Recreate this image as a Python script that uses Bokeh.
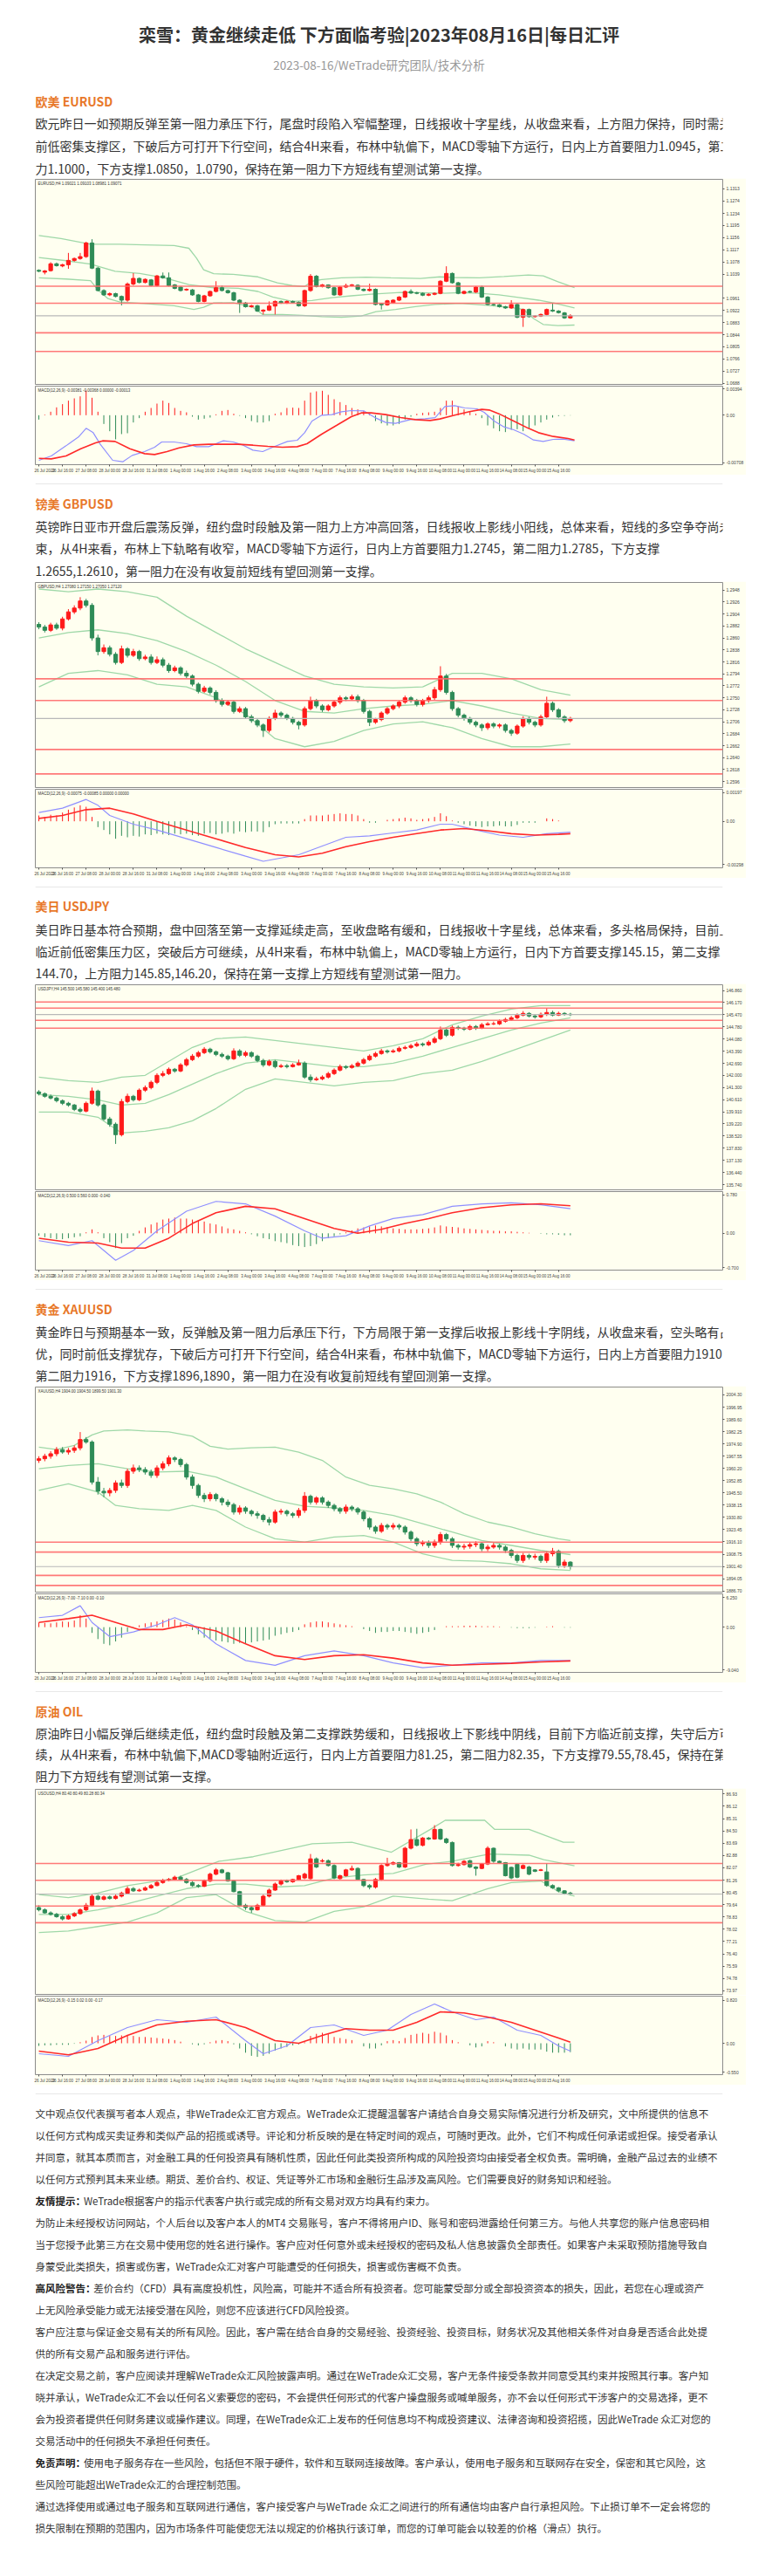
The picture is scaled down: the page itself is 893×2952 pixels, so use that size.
from bokeh.plotting import figure
from bokeh.layouts import column, row
from bokeh.models import Spacer, Range1d, Span, Label, FixedTicker, ColumnDataSource, PrintfTickFormatter
from bokeh.embed import file_html
from bokeh.resources import INLINE
from bokeh.core.properties import value

FONT = "Noto Sans CJK SC"
W = 816
PALE = "#fffff0"
UPC = "#ff1a1a"
DNC = "#2e8b57"
BANDC = "#9fd8a8"
LEVELC = "#ff6a6a"
ORANGE = "#e8782a"
BODY = "14px"
SMALL = "11.5px"

# ---------------- texts ----------------
title = "栾雪：黄金继续走低 下方面临考验|2023年08月16日|每日汇评"
subtitle = "2023-08-16/WeTrade研究团队/技术分析"

eur_head = "欧美 EURUSD"
eur_lines = [
    "欧元昨日一如预期反弹至第一阻力承压下行，尾盘时段陷入窄幅整理，日线报收十字星线，从收盘来看，上方阻力保持，同时需关注",
    "前低密集支撑区，下破后方可打开下行空间，结合4H来看，布林中轨偏下，MACD零轴下方运行，日内上方首要阻力1.0945，第二阻",
    "力1.1000，下方支撑1.0850，1.0790，保持在第一阻力下方短线有望测试第一支撑。",
]
gbp_head = "镑美 GBPUSD"
gbp_lines = [
    "英镑昨日亚市开盘后震荡反弹，纽约盘时段触及第一阻力上方冲高回落，日线报收上影线小阳线，总体来看，短线的多空争夺尚未结",
    "束，从4H来看，布林上下轨略有收窄，MACD零轴下方运行，日内上方首要阻力1.2745，第二阻力1.2785，下方支撑",
    "1.2655,1.2610，第一阻力在没有收复前短线有望回测第一支撑。",
]
jpy_head = "美日 USDJPY"
jpy_lines = [
    "美日昨日基本符合预期，盘中回落至第一支撑延续走高，至收盘略有缓和，日线报收十字星线，总体来看，多头格局保持，目前上方",
    "临近前低密集压力区，突破后方可继续，从4H来看，布林中轨偏上，MACD零轴上方运行，日内下方首要支撑145.15，第二支撑",
    "144.70，上方阻力145.85,146.20，保持在第一支撑上方短线有望测试第一阻力。",
]
xau_head = "黄金 XAUUSD"
xau_lines = [
    "黄金昨日与预期基本一致，反弹触及第一阻力后承压下行，下方局限于第一支撑后收报上影线十字阴线，从收盘来看，空头略有占",
    "优，同时前低支撑犹存，下破后方可打开下行空间，结合4H来看，布林中轨偏下，MACD零轴下方运行，日内上方首要阻力1910，",
    "第二阻力1916，下方支撑1896,1890，第一阻力在没有收复前短线有望回测第一支撑。",
]
oil_head = "原油 OIL"
oil_lines = [
    "原油昨日小幅反弹后继续走低，纽约盘时段触及第二支撑跌势缓和，日线报收上下影线中阴线，目前下方临近前支撑，失守后方可继",
    "续，从4H来看，布林中轨偏下,MACD零轴附近运行，日内上方首要阻力81.25，第二阻力82.35，下方支撑79.55,78.45，保持在第一",
    "阻力下方短线有望测试第一支撑。",
]
disc_lines = [
    ("", "文中观点仅代表撰写者本人观点，非WeTrade众汇官方观点。WeTrade众汇提醒温馨客户请结合自身交易实际情况进行分析及研究，文中所提供的信息不"),
    ("", "以任何方式构成买卖证券和类似产品的招揽或诱导。评论和分析反映的是在特定时间的观点，可随时更改。此外，它们不构成任何承诺或担保。接受者承认"),
    ("", "并同意，就其本质而言，对金融工具的任何投资具有随机性质，因此任何此类投资所构成的风险投资均由接受者全权负责。需明确，金融产品过去的业绩不"),
    ("", "以任何方式预判其未来业绩。期货、差价合约、权证、凭证等外汇市场和金融衍生品涉及高风险。它们需要良好的财务知识和经验。"),
    ("友情提示：", "WeTrade根据客户的指示代表客户执行或完成的所有交易对双方均具有约束力。"),
    ("", "为防止未经授权访问网站，个人后台以及客户本人的MT4 交易账号，客户不得将用户ID、账号和密码泄露给任何第三方。与他人共享您的账户信息密码相"),
    ("", "当于您授予此第三方在交易中使用您的姓名进行操作。客户应对任何意外或未经授权的密码及私人信息披露负全部责任。如果客户未采取预防措施导致自"),
    ("", "身蒙受此类损失，损害或伤害，WeTrade众汇对客户可能遭受的任何损失，损害或伤害概不负责。"),
    ("高风险警告：", "差价合约（CFD）具有高度投机性，风险高，可能并不适合所有投资者。您可能蒙受部分或全部投资资本的损失，因此，若您在心理或资产"),
    ("", "上无风险承受能力或无法接受潜在风险，则您不应该进行CFD风险投资。"),
    ("", "客户应注意与保证金交易有关的所有风险。因此，客户需在结合自身的交易经验、投资经验、投资目标，财务状况及其他相关条件对自身是否适合此处提"),
    ("", "供的所有交易产品和服务进行评估。"),
    ("", "在决定交易之前，客户应阅读并理解WeTrade众汇风险披露声明。通过在WeTrade众汇交易，客户无条件接受条款并同意受其约束并按照其行事。客户知"),
    ("", "晓并承认，WeTrade众汇不会以任何名义索要您的密码，不会提供任何形式的代客户操盘服务或喊单服务，亦不会以任何形式干涉客户的交易选择，更不"),
    ("", "会为投资者提供任何财务建议或操作建议。同理，在WeTrade众汇上发布的任何信息均不构成投资建议、法律咨询和投资招揽，因此WeTrade 众汇对您的"),
    ("", "交易活动中的任何损失不承担任何责任。"),
    ("免责声明：", "使用电子服务存在一些风险，包括但不限于硬件，软件和互联网连接故障。客户承认，使用电子服务和互联网存在安全，保密和其它风险，这"),
    ("", "些风险可能超出WeTrade众汇的合理控制范围。"),
    ("", "通过选择使用或通过电子服务和互联网进行通信，客户接受客户与WeTrade 众汇之间进行的所有通信均由客户自行承担风险。下止损订单不一定会将您的"),
    ("", "损失限制在预期的范围内，因为市场条件可能使您无法以规定的价格执行该订单，而您的订单可能会以较差的价格（滑点）执行。"),
]

# ---------------- shared date axis ----------------
date_ticks = [0, 4, 8, 12, 16, 20, 24, 28, 32, 36, 40, 44, 48, 52, 56, 60, 64, 68, 72, 76, 80, 84, 88]
date_labels = ["26 Jul 2023", "26 Jul 16:00", "27 Jul 08:00", "28 Jul 00:00", "28 Jul 16:00", "31 Jul 08:00",
               "1 Aug 00:00", "1 Aug 16:00", "2 Aug 08:00", "3 Aug 00:00", "3 Aug 16:00", "4 Aug 08:00",
               "7 Aug 00:00", "7 Aug 16:00", "8 Aug 08:00", "9 Aug 00:00", "9 Aug 16:00", "10 Aug 08:00",
               "11 Aug 00:00", "11 Aug 16:00", "14 Aug 08:00", "15 Aug 00:00", "15 Aug 16:00"]

# ================= EURUSD =================
eur_open = [1.1051, 1.1045, 1.1050, 1.1072, 1.1065, 1.1069, 1.1083, 1.1089, 1.1095, 1.1139,
            1.1058, 1.0986, 1.0972, 1.0976, 1.0967, 1.0955, 1.1007, 1.1025, 1.1012, 1.1020,
            1.1002, 1.1033, 1.1027, 1.1004, 1.0997, 1.0988, 1.0988, 1.0972, 1.0951, 1.0969,
            1.0983, 1.0995, 1.0986, 1.0979, 1.0955, 1.0946, 1.0934, 1.0937, 1.0920, 1.0923,
            1.0936, 1.0951, 1.0946, 1.0951, 1.0948, 1.0937, 1.0986, 1.1032, 1.0999, 1.1004,
            1.0995, 1.0972, 1.0997, 1.1002, 1.1003, 1.0990, 1.0986, 1.0990, 1.0943, 1.0940,
            1.0947, 1.0955, 1.0965, 1.0983, 1.0979, 1.0977, 1.0971, 1.0974, 1.0977, 1.1016,
            1.1041, 1.1011, 1.0977, 1.0983, 1.0981, 1.0997, 1.0965, 1.0941, 1.0940, 1.0934,
            1.0930, 1.0941, 1.0900, 1.0925, 1.0902, 1.0904, 1.0909, 1.0923, 1.0920, 1.0914,
            1.0898]
eur_close = [1.1048, 1.1049, 1.1072, 1.1066, 1.1069, 1.1083, 1.1089, 1.1095, 1.1139, 1.1058,
             1.0986, 1.0972, 1.0976, 1.0967, 1.0955, 1.1007, 1.1025, 1.1012, 1.1022, 1.1002,
             1.1033, 1.1027, 1.1002, 1.0993, 1.0986, 1.0990, 1.0972, 1.0951, 1.0969, 1.0983,
             1.0995, 1.0986, 1.0979, 1.0955, 1.0946, 1.0934, 1.0937, 1.0920, 1.0923, 1.0936,
             1.0951, 1.0946, 1.0951, 1.0948, 1.0937, 1.0986, 1.1032, 1.0999, 1.1004, 1.0995,
             1.0972, 1.0997, 1.1002, 1.1004, 1.0990, 1.0986, 1.0990, 1.0941, 1.0940, 1.0953,
             1.0955, 1.0965, 1.0983, 1.0978, 1.0977, 1.0971, 1.0974, 1.0977, 1.1016, 1.1041,
             1.1011, 1.0977, 1.0983, 1.0981, 1.0997, 1.0965, 1.0941, 1.0940, 1.0934, 1.0930,
             1.0941, 1.0900, 1.0925, 1.0902, 1.0904, 1.0909, 1.0925, 1.0920, 1.0915, 1.0898,
             1.0905]
eur_high = [1.1054, 1.1052, 1.1077, 1.1076, 1.1072, 1.1107, 1.1092, 1.1107, 1.1143, 1.1151,
            1.1062, 1.0990, 1.0980, 1.0979, 1.0970, 1.1012, 1.1042, 1.1028, 1.1025, 1.1023,
            1.1036, 1.1044, 1.1044, 1.1007, 1.1000, 1.0993, 1.0991, 1.0975, 1.0972, 1.0986,
            1.1016, 1.1002, 1.0989, 1.0982, 1.0958, 1.0949, 1.0940, 1.0940, 1.0926, 1.0951,
            1.0954, 1.0954, 1.0954, 1.0954, 1.0951, 1.0989, 1.1039, 1.1036, 1.1007, 1.1006,
            1.0998, 1.1000, 1.1008, 1.1007, 1.1006, 1.0993, 1.1008, 1.0993, 1.0946, 1.0956,
            1.0958, 1.0968, 1.0986, 1.0990, 1.0982, 1.0980, 1.0977, 1.0980, 1.1019, 1.1064,
            1.1044, 1.1014, 1.0986, 1.0986, 1.1000, 1.1002, 1.0968, 1.0944, 1.0943, 1.0937,
            1.0955, 1.0944, 1.0928, 1.0928, 1.0907, 1.0912, 1.0928, 1.0946, 1.0923, 1.0917,
            1.0910]
eur_low = [1.1045, 1.1038, 1.1047, 1.1063, 1.1061, 1.1056, 1.1079, 1.1085, 1.1091, 1.1055,
           1.0983, 1.0969, 1.0968, 1.0964, 1.0938, 1.0950, 1.1003, 1.1009, 1.1009, 1.0999,
           1.0999, 1.1024, 1.0999, 1.0990, 1.0983, 1.0985, 1.0969, 1.0948, 1.0948, 1.0966,
           1.0980, 1.0983, 1.0976, 1.0952, 1.0914, 1.0931, 1.0931, 1.0917, 1.0909, 1.0920,
           1.0909, 1.0943, 1.0943, 1.0945, 1.0934, 1.0933, 1.0982, 1.0996, 1.0996, 1.0992,
           1.0969, 1.0969, 1.0994, 1.0999, 1.0987, 1.0983, 1.0983, 1.0938, 1.0925, 1.0937,
           1.0944, 1.0952, 1.0962, 1.0975, 1.0974, 1.0968, 1.0968, 1.0971, 1.0974, 1.1013,
           1.1008, 1.0974, 1.0974, 1.0978, 1.0978, 1.0962, 1.0938, 1.0937, 1.0931, 1.0927,
           1.0927, 1.0897, 1.0869, 1.0899, 1.0899, 1.0901, 1.0906, 1.0917, 1.0912, 1.0895,
           1.0895]
eur_bb_up_x = [0, 3.75, 8.75, 13.75, 17.9, 22.9, 25.4, 26.7, 27.9, 29.6, 32.9, 37.1, 40.4, 42.9, 45,
               46.25, 47.9, 51.25, 55.4, 59.6, 64.6, 67.9, 70.4, 74.6, 78.75, 82.9, 85.4, 87.9, 90.7]
eur_bb_up = [1.1163, 1.1153, 1.1135, 1.1135, 1.1133, 1.1131, 1.1122, 1.1090, 1.1053, 1.1040, 1.1038, 1.1030,
             1.1011, 1.1002, 1.0999, 1.1016, 1.1021, 1.1027, 1.1029, 1.1027, 1.1025, 1.1030, 1.1028, 1.1027,
             1.1031, 1.1036, 1.1033, 1.1014, 1.0995]
eur_bb_mid_x = [0, 4.6, 8.75, 12.9, 17.1, 21.25, 25.4, 29.6, 33.75, 37.1, 39.6, 42.9, 46.25, 49.6, 52.9,
                56.25, 61.25, 64.6, 67.9, 71.25, 74.6, 77.9, 81.25, 84.6, 87.9, 90.7]
eur_bb_mid = [1.1092, 1.1082, 1.1071, 1.1048, 1.1041, 1.1027, 1.1005, 1.0995, 1.0993, 1.0983, 1.0965, 1.0951,
              1.0954, 1.0963, 1.0969, 1.0974, 1.0980, 1.0979, 1.0977, 1.0979, 1.0977, 1.0972, 1.0964, 1.0955,
              1.0943, 1.0930]
eur_bb_low_x = [0, 4.6, 8.75, 10, 11.7, 13.75, 17.9, 22.9, 26.25, 27.9, 29.6, 32.9, 36.25, 37.9, 41.25,
                44.6, 47.9, 51.25, 54.6, 57.1, 60.4, 63.75, 67.1, 71.25, 75.4, 79.6, 82.1, 83.75, 85.4, 87.9, 90.7]
eur_bb_low = [1.1027, 1.1023, 1.1018, 1.0988, 1.0960, 1.0949, 1.0944, 1.0937, 1.0925, 1.0932, 1.0946, 1.0947,
              1.0932, 1.0909, 1.0909, 1.0906, 1.0902, 1.0900, 1.0904, 1.0918, 1.0925, 1.0934, 1.0941, 1.0945,
              1.0939, 1.0932, 1.0925, 1.0896, 1.0877, 1.0873, 1.0875]
eur_hist = [-0.00065, 0.00009, 0.00052, 0.00117, 0.00165, 0.00217, 0.00251, 0.00281, 0.00368, 0.00260,
            0.00052, -0.00130, -0.00238, -0.00359, -0.00281, -0.00268, -0.00108, -0.00043, 0.00052, 0.00108,
            0.00173, 0.00217, 0.00182, 0.00108, 0.00065, 0.00043, -0.00022, -0.00065, -0.00052, -0.00035,
            0.00013, 0.00065, 0.00078, 0.00022, -0.00009, -0.00043, -0.00087, -0.00108, -0.00108, -0.00087,
            0.00022, 0.00043, 0.00108, 0.00113, 0.00108, 0.00217, 0.00338, 0.00355, 0.00364, 0.00303,
            0.00238, 0.00195, 0.00152, 0.00108, 0.00087, 0.00065, 0.00035, -0.00087, -0.00121, -0.00152,
            -0.00152, -0.00130, -0.00065, -0.00022, 0.00022, 0.00035, 0.00043, 0.00052, 0.00108, 0.00217,
            0.00217, 0.00130, 0.00087, 0.00052, 0.00022, -0.00043, -0.00152, -0.00195, -0.00238, -0.00251,
            -0.00217, -0.00208, -0.00238, -0.00195, -0.00152, -0.00108, -0.00065, -0.00035, -0.00013, -0.00009,
            -0.00004]
eur_macd_x = [0, 2.1, 4.6, 6.7, 8, 9.2, 10.4, 12.5, 14.2, 15.8, 17.9, 19.6, 20.8, 22.9, 25, 26.7, 28.75,
              31.25, 32.9, 34.6, 36.25, 37.9, 39.6, 42.1, 43.75, 45, 46.25, 47.9, 49.6, 51.25, 52.9, 55,
              57.1, 58.75, 60.4, 62.9, 65.4, 67.1, 68.75, 70.4, 72.1, 74.2, 75.4, 77.1, 78.75, 80.4, 82.1,
              83.75, 85.4, 87.1, 88.75, 90.7]
eur_macd = [-0.00671, -0.00606, -0.00455, -0.00325, -0.00195, -0.00260, -0.00433, -0.00671, -0.00693, -0.00598,
            -0.00541, -0.00476, -0.00398, -0.00398, -0.00424, -0.00468, -0.00468, -0.00381, -0.00398, -0.00446,
            -0.00520, -0.00541, -0.00476, -0.00390, -0.00372, -0.00260, -0.00087, 0.0, 0.00009, 0.00052,
            0.00069, 0.00065, -0.00043, -0.00108, -0.00121, -0.00065, -0.00052, -0.00035, 0.00130, 0.00143,
            0.00108, 0.00095, 0.00043, -0.00087, -0.00173, -0.00217, -0.00281, -0.00368, -0.00390, -0.00359,
            -0.00355, -0.00381]
eur_sig_x = [0, 2.1, 4.6, 7.1, 9.6, 10.8, 12.9, 15.4, 17.9, 19.6, 21.7, 23.75, 26.25, 28.75, 31.25, 33.75,
             36.25, 38.75, 41.25, 43.75, 45.4, 47.9, 50.4, 52.9, 54.6, 56.25, 58.75, 61.25, 63.75, 66.25,
             67.9, 70.4, 72.9, 75, 76.25, 77.9, 80.4, 82.9, 84.6, 87.1, 89.6, 90.7]
eur_sig = [-0.00641, -0.00650, -0.00606, -0.00498, -0.00411, -0.00381, -0.00390, -0.00498, -0.00572, -0.00585,
           -0.00541, -0.00485, -0.00442, -0.00433, -0.00433, -0.00433, -0.00446, -0.00463, -0.00476, -0.00468,
           -0.00424, -0.00281, -0.00152, -0.00022, 0.00035, 0.00035, 0.00009, -0.00035, -0.00065, -0.00078,
           -0.00056, 0.0, 0.00052, 0.00087, 0.00078, 0.00022, -0.00087, -0.00195, -0.00260, -0.00316,
           -0.00346, -0.00368]
eur_levels = [1.1000, 1.0945, 1.0850, 1.0790]
eur_last = 1.0905
eur_yticks = [1.0688, 1.0727, 1.0766, 1.0805, 1.0844, 1.0883, 1.0922, 1.0961, 1.1039, 1.1078, 1.1117,
              1.1156, 1.1195, 1.1234, 1.1274, 1.1313]

# ================= GBPUSD =================
gbp_open = [1.2885, 1.2880, 1.2874, 1.2884, 1.2878, 1.2895,
            1.2908, 1.2915, 1.2928, 1.2920, 1.2860, 1.2835,
            1.2842, 1.2830, 1.2815, 1.2840, 1.2828, 1.2835,
            1.2822, 1.2825, 1.2815, 1.2820, 1.2810, 1.2800,
            1.2805, 1.2795, 1.2790, 1.2775, 1.2762, 1.2768,
            1.2760, 1.2745, 1.2738, 1.2742, 1.2725, 1.2730,
            1.2715, 1.2708, 1.2700, 1.2690, 1.2712, 1.2722,
            1.2718, 1.2712, 1.2705, 1.2700, 1.2730, 1.2745,
            1.2735, 1.2728, 1.2735, 1.2742, 1.2750, 1.2748,
            1.2752, 1.2745, 1.2725, 1.2705, 1.2710, 1.2722,
            1.2730, 1.2735, 1.2742, 1.2750, 1.2745, 1.2738,
            1.2745, 1.2750, 1.2765, 1.2790, 1.2760, 1.2730,
            1.2718, 1.2712, 1.2705, 1.2700, 1.2695, 1.2702,
            1.2698, 1.2700, 1.2690, 1.2685, 1.2698, 1.2712,
            1.2705, 1.2700, 1.2715, 1.2740, 1.2728, 1.2715,
            1.2708]
gbp_close = [1.2880, 1.2874, 1.2884, 1.2878, 1.2895, 1.2908,
             1.2915, 1.2928, 1.2920, 1.2860, 1.2835, 1.2842,
             1.2830, 1.2815, 1.2840, 1.2828, 1.2835, 1.2822,
             1.2825, 1.2815, 1.2820, 1.2810, 1.2800, 1.2805,
             1.2795, 1.2790, 1.2775, 1.2762, 1.2768, 1.2760,
             1.2745, 1.2738, 1.2742, 1.2725, 1.2730, 1.2715,
             1.2708, 1.2700, 1.2690, 1.2712, 1.2722, 1.2718,
             1.2712, 1.2705, 1.2700, 1.2730, 1.2745, 1.2735,
             1.2728, 1.2735, 1.2742, 1.2750, 1.2748, 1.2752,
             1.2745, 1.2725, 1.2705, 1.2710, 1.2722, 1.2730,
             1.2735, 1.2742, 1.2750, 1.2745, 1.2738, 1.2745,
             1.2750, 1.2765, 1.2790, 1.2760, 1.2730, 1.2718,
             1.2712, 1.2705, 1.2700, 1.2695, 1.2702, 1.2698,
             1.2700, 1.2690, 1.2685, 1.2698, 1.2712, 1.2705,
             1.2700, 1.2715, 1.2740, 1.2728, 1.2715, 1.2708,
             1.2712]
gbp_high = [1.2889, 1.2884, 1.2888, 1.2888, 1.2899, 1.2913,
            1.2920, 1.2935, 1.2932, 1.2924, 1.2866, 1.2848,
            1.2846, 1.2834, 1.2846, 1.2843, 1.2840, 1.2838,
            1.2829, 1.2830, 1.2826, 1.2824, 1.2814, 1.2809,
            1.2808, 1.2800, 1.2793, 1.2778, 1.2772, 1.2771,
            1.2764, 1.2749, 1.2746, 1.2745, 1.2734, 1.2733,
            1.2719, 1.2711, 1.2703, 1.2716, 1.2728, 1.2725,
            1.2721, 1.2715, 1.2708, 1.2734, 1.2752, 1.2748,
            1.2738, 1.2738, 1.2745, 1.2754, 1.2753, 1.2756,
            1.2756, 1.2748, 1.2728, 1.2713, 1.2725, 1.2733,
            1.2738, 1.2745, 1.2754, 1.2753, 1.2748, 1.2748,
            1.2754, 1.2770, 1.2808, 1.2794, 1.2763, 1.2733,
            1.2721, 1.2715, 1.2708, 1.2703, 1.2705, 1.2705,
            1.2703, 1.2703, 1.2693, 1.2701, 1.2716, 1.2715,
            1.2708, 1.2719, 1.2752, 1.2743, 1.2731, 1.2718,
            1.2715]
gbp_low = [1.2876, 1.2870, 1.2871, 1.2875, 1.2874, 1.2892,
           1.2904, 1.2911, 1.2916, 1.2855, 1.2828, 1.2831,
           1.2826, 1.2811, 1.2812, 1.2824, 1.2825, 1.2818,
           1.2819, 1.2811, 1.2812, 1.2806, 1.2796, 1.2797,
           1.2791, 1.2786, 1.2771, 1.2758, 1.2759, 1.2756,
           1.2741, 1.2734, 1.2735, 1.2721, 1.2722, 1.2711,
           1.2704, 1.2696, 1.2678, 1.2686, 1.2709, 1.2714,
           1.2709, 1.2701, 1.2692, 1.2697, 1.2727, 1.2731,
           1.2724, 1.2725, 1.2732, 1.2738, 1.2744, 1.2745,
           1.2741, 1.2721, 1.2698, 1.2702, 1.2707, 1.2719,
           1.2727, 1.2731, 1.2739, 1.2741, 1.2734, 1.2734,
           1.2741, 1.2746, 1.2761, 1.2756, 1.2726, 1.2714,
           1.2708, 1.2701, 1.2696, 1.2689, 1.2691, 1.2694,
           1.2694, 1.2686, 1.2680, 1.2682, 1.2695, 1.2701,
           1.2696, 1.2697, 1.2711, 1.2724, 1.2711, 1.2704,
           1.2705]
gbp_bb_x = [0, 5, 10, 15, 20, 25, 30, 35, 40, 45, 50, 55, 60, 65, 70, 75, 80, 85, 90]
gbp_bb_up = [1.2950, 1.2945, 1.2950, 1.2945, 1.2935, 1.2900, 1.2870, 1.2840, 1.2815, 1.2790,
             1.2775, 1.2770, 1.2768, 1.2770, 1.2795, 1.2795, 1.2785, 1.2765, 1.2755]
gbp_bb_mid = [1.2860, 1.2870, 1.2875, 1.2868, 1.2855, 1.2835, 1.2810, 1.2780, 1.2745, 1.2725,
              1.2722, 1.2730, 1.2735, 1.2738, 1.2745, 1.2735, 1.2722, 1.2712, 1.2710]
gbp_bb_low = [1.2770, 1.2795, 1.2800, 1.2792, 1.2775, 1.2770, 1.2750, 1.2720, 1.2675, 1.2660,
              1.2670, 1.2690, 1.2702, 1.2706, 1.2695, 1.2675, 1.2660, 1.2660, 1.2665]
gbp_hist = [0.0004, 0.0003, 0.00045, 0.0004, 0.0006, 0.0008, 0.00095, 0.0011, 0.0010,
            0.0003, -0.0004, -0.0006, -0.0009, -0.0012, -0.0010, -0.0011, -0.0010, -0.00105,
            -0.0009, -0.00095, -0.00085, -0.0009, -0.00095, -0.00085, -0.0009, -0.00085, -0.00095,
            -0.0010, -0.00085, -0.0008, -0.0009, -0.00085, -0.00075, -0.00085, -0.0007, -0.00075,
            -0.0007, -0.0007, -0.00075, -0.0004, -0.0002, -0.00015, -0.00015, -0.00015, -0.00015,
            0.00015, 0.0004, 0.0004, 0.0004, 0.00045, 0.0005, 0.00055, 0.0005, 0.0005,
            0.0004, 0.00015, -0.0001, -0.0001, 0.0, 0.0001, 0.00015, 0.0002, 0.00025,
            0.0002, 0.0001, 0.00015, 0.0002, 0.0003, 0.00055, 0.00035, 0.00005, -0.0001,
            -0.0002, -0.0003, -0.00035, -0.0004, -0.00035, -0.00035, -0.0003, -0.00035, -0.00035,
            -0.00025, -0.0001, -0.0001, -0.0001, 0.0, 0.0002, 0.00015, 0.00005, 0.0,
            0.0]
gbp_macd_x = [0, 4, 8, 10, 12, 16, 20, 25, 30, 35, 38, 40, 44, 48, 52, 56, 60, 64, 68, 70, 74, 78, 82, 86, 90]
gbp_macd = [0.0006, 0.0009, 0.0015, 0.0011, 0.0004, -0.0002, -0.0006, -0.0012, -0.0018, -0.0024,
            -0.00275, -0.0026, -0.0023, -0.0017, -0.0011, -0.0010, -0.0008, -0.0006, -0.0002, -0.0002,
            -0.0006, -0.00095, -0.0011, -0.00085, -0.00075]
gbp_sig_x = [0, 4, 8, 12, 16, 20, 25, 30, 35, 40, 44, 48, 52, 56, 60, 64, 68, 72, 76, 80, 84, 88, 90]
gbp_sig = [0.0002, 0.0004, 0.0008, 0.0009, 0.0005, 0.0, -0.0006, -0.0012, -0.0018, -0.0023, -0.00245,
           -0.0022, -0.00175, -0.0014, -0.0011, -0.00085, -0.0006, -0.0005, -0.00065, -0.00085, -0.00095,
           -0.0009, -0.00085]
gbp_levels = [1.2785, 1.2745, 1.2655, 1.2610]
gbp_last = 1.2712
gbp_yticks = [1.2596, 1.2618, 1.2640, 1.2662, 1.2684, 1.2706, 1.2728, 1.2750, 1.2772, 1.2794, 1.2816,
              1.2838, 1.2860, 1.2882, 1.2904, 1.2926, 1.2948]

# ================= USDJPY =================
jpy_open = [141.05, 140.95, 140.80, 140.70, 140.55, 140.40,
            140.30, 140.05, 139.95, 140.40, 141.10, 140.30,
            139.50, 139.20, 138.60, 140.50, 140.80, 140.60,
            141.15, 141.30, 141.60, 142.00, 142.10, 142.35,
            142.25, 142.60, 142.90, 143.10, 143.30, 143.50,
            143.35, 143.20, 143.10, 142.95, 143.40, 143.15,
            143.30, 143.10, 142.85, 142.60, 142.80, 142.50,
            142.55, 142.50, 142.60, 142.70, 141.90, 141.75,
            141.80, 141.90, 142.10, 142.30, 142.50, 142.45,
            142.55, 142.70, 142.90, 143.10, 143.25, 143.40,
            143.35, 143.40, 143.55, 143.60, 143.70, 143.80,
            143.75, 143.90, 144.10, 144.60, 144.30, 144.75,
            144.70, 144.65, 144.80, 144.70, 144.90, 144.95,
            144.95, 145.10, 145.20, 145.30, 145.45, 145.55,
            145.40, 145.35, 145.50, 145.60, 145.45, 145.55,
            145.50]
jpy_close = [140.95, 140.80, 140.70, 140.55, 140.40, 140.30,
             140.05, 139.95, 140.40, 141.10, 140.30, 139.50,
             139.20, 138.60, 140.50, 140.80, 140.60, 141.15,
             141.30, 141.60, 142.00, 142.10, 142.35, 142.25,
             142.60, 142.90, 143.10, 143.30, 143.50, 143.35,
             143.20, 143.10, 142.95, 143.40, 143.15, 143.30,
             143.10, 142.85, 142.60, 142.80, 142.50, 142.55,
             142.50, 142.60, 142.70, 141.90, 141.75, 141.80,
             141.90, 142.10, 142.30, 142.50, 142.45, 142.55,
             142.70, 142.90, 143.10, 143.25, 143.40, 143.35,
             143.40, 143.55, 143.60, 143.70, 143.80, 143.75,
             143.90, 144.10, 144.60, 144.30, 144.75, 144.70,
             144.65, 144.80, 144.70, 144.90, 144.95, 144.95,
             145.10, 145.20, 145.30, 145.45, 145.55, 145.40,
             145.35, 145.50, 145.60, 145.45, 145.55, 145.50,
             145.48]
jpy_high = [141.15, 141.02, 140.90, 140.78, 140.62, 140.48,
            140.36, 140.15, 140.50, 141.30, 141.18, 140.38,
            139.62, 139.30, 140.65, 140.95, 140.88, 141.25,
            141.42, 141.70, 142.12, 142.25, 142.45, 142.42,
            142.70, 143.00, 143.22, 143.40, 143.62, 143.58,
            143.42, 143.30, 143.18, 143.55, 143.50, 143.40,
            143.38, 143.18, 142.95, 142.90, 142.88, 142.65,
            142.65, 142.70, 142.90, 142.80, 142.05, 141.92,
            142.00, 142.20, 142.40, 142.62, 142.58, 142.65,
            142.80, 143.00, 143.20, 143.35, 143.52, 143.48,
            143.50, 143.65, 143.70, 143.80, 143.92, 143.88,
            144.00, 144.22, 144.80, 144.68, 144.85, 144.85,
            144.78, 144.90, 144.88, 145.00, 145.05, 145.08,
            145.20, 145.30, 145.40, 145.55, 145.68, 145.62,
            145.48, 145.60, 145.85, 145.70, 145.65, 145.62,
            145.58]
jpy_low = [140.85, 140.72, 140.62, 140.45, 140.30, 140.20,
           139.95, 139.85, 139.88, 140.32, 140.20, 139.40,
           139.05, 138.07, 138.50, 140.40, 140.50, 140.52,
           141.05, 141.20, 141.50, 141.90, 142.02, 142.15,
           142.18, 142.50, 142.82, 143.00, 143.22, 143.25,
           143.10, 143.00, 142.85, 142.88, 143.05, 143.05,
           143.00, 142.75, 142.48, 142.52, 142.40, 142.42,
           142.40, 142.45, 142.55, 141.80, 141.62, 141.68,
           141.72, 141.82, 142.02, 142.22, 142.35, 142.38,
           142.48, 142.62, 142.82, 143.02, 143.18, 143.25,
           143.28, 143.32, 143.48, 143.52, 143.62, 143.65,
           143.68, 143.82, 144.02, 144.20, 144.22, 144.60,
           144.55, 144.58, 144.60, 144.65, 144.85, 144.88,
           144.88, 145.02, 145.12, 145.22, 145.38, 145.32,
           145.25, 145.28, 145.40, 145.38, 145.40, 145.42,
           145.40]
jpy_bb_x = [0, 5, 10, 14, 18, 22, 26, 30, 35, 40, 45, 50, 55, 60, 65, 70, 75, 80, 85, 90]
jpy_bb_up = [141.9, 141.7, 141.6, 141.9, 142.0, 142.8, 143.6, 144.1, 144.2, 144.0,
             143.8, 143.6, 143.4, 143.7, 144.1, 144.9, 145.4, 145.8, 146.0, 146.0]
jpy_bb_mid = [140.9, 140.8, 140.6, 140.3, 140.4, 140.9, 141.5, 142.1, 142.7, 142.9,
              142.7, 142.5, 142.5, 142.7, 143.1, 143.6, 144.1, 144.6, 145.0, 145.3]
jpy_bb_low = [139.9, 139.9, 139.6, 138.7, 138.8, 139.0, 139.4, 140.1, 141.2, 141.8,
              141.6, 141.4, 141.6, 141.7, 142.1, 142.3, 142.8, 143.4, 144.0, 144.6]
jpy_hist = [-0.05, -0.08, -0.10, -0.12, -0.12, -0.10, -0.08, -0.06, 0.02, 0.08,
            0.02, -0.10, -0.18, -0.30, -0.20, -0.10, -0.05, 0.05, 0.12, 0.18,
            0.22, 0.28, 0.30, 0.32, 0.30, 0.30, 0.28, 0.26, 0.24, 0.20,
            0.18, 0.14, 0.10, 0.08, 0.05, 0.02, -0.02, -0.06, -0.10, -0.12,
            -0.16, -0.18, -0.20, -0.24, -0.26, -0.28, -0.26, -0.22, -0.16, -0.10,
            -0.06, -0.02, 0.02, 0.06, 0.10, 0.12, 0.14, 0.16, 0.14, 0.12,
            0.10, 0.09, 0.08, 0.08, 0.08, 0.09, 0.10, 0.12, 0.16, 0.14,
            0.13, 0.12, 0.10, 0.09, 0.08, 0.07, 0.06, 0.05, 0.05, 0.04,
            0.04, 0.03, 0.02, 0.01, 0.0, -0.01, -0.02, -0.02, -0.03, -0.04,
            -0.04]
jpy_macd_x = [0, 5, 9, 13, 16, 20, 25, 30, 35, 40, 45, 48, 52, 56, 60, 65, 70, 75, 80, 85, 90]
jpy_macd = [-0.15, -0.25, -0.15, -0.55, -0.35, 0.05, 0.45, 0.65, 0.60, 0.35, 0.05, -0.10, -0.05,
            0.15, 0.30, 0.38, 0.55, 0.60, 0.62, 0.58, 0.50]
jpy_sig_x = [0, 5, 10, 14, 18, 22, 26, 30, 35, 40, 45, 50, 54, 58, 62, 66, 70, 75, 80, 85, 90]
jpy_sig = [-0.10, -0.18, -0.20, -0.30, -0.30, -0.10, 0.20, 0.42, 0.55, 0.50, 0.30, 0.10, 0.00,
           0.08, 0.20, 0.30, 0.42, 0.52, 0.58, 0.60, 0.56]
jpy_levels = [146.20, 145.85, 145.15, 144.70]
jpy_last = 145.48
jpy_yticks = [135.74, 136.44, 137.13, 137.83, 138.52, 139.22, 139.91, 140.61, 141.30, 142.00, 142.69,
              143.39, 144.08, 144.78, 145.47, 146.17, 146.86]

# ================= XAUUSD =================
xau_open = [1965.0, 1966.0, 1967.5, 1969.0, 1971.5, 1970.0,
            1971.0, 1972.5, 1977.5, 1976.0, 1952.0, 1946.5,
            1945.5, 1947.0, 1951.5, 1950.0, 1958.5, 1960.5,
            1959.5, 1958.0, 1956.0, 1960.5, 1963.0, 1966.5,
            1965.5, 1962.5, 1955.0, 1950.0, 1944.0, 1942.0,
            1944.5, 1942.0, 1940.0, 1938.5, 1934.0, 1936.5,
            1934.5, 1933.0, 1932.0, 1929.5, 1928.0, 1934.0,
            1934.5, 1933.0, 1932.0, 1935.0, 1943.5, 1940.0,
            1942.5, 1940.0, 1938.0, 1936.0, 1934.5, 1937.0,
            1936.0, 1934.0, 1930.0, 1925.0, 1922.5, 1926.0,
            1925.0, 1926.0, 1925.0, 1922.0, 1918.0, 1915.0,
            1915.5, 1914.0, 1916.0, 1920.5, 1918.0, 1914.0,
            1913.0, 1913.5, 1914.5, 1915.0, 1912.0, 1913.0,
            1914.0, 1913.0, 1911.0, 1908.0, 1905.0, 1908.0,
            1907.0, 1907.5, 1905.0, 1909.0, 1910.5, 1902.0,
            1904.0]
xau_close = [1966.0, 1967.5, 1969.0, 1971.5, 1970.0, 1971.0,
             1972.5, 1977.5, 1976.0, 1952.0, 1946.5, 1945.5,
             1947.0, 1951.5, 1950.0, 1958.5, 1960.5, 1959.5,
             1958.0, 1956.0, 1960.5, 1963.0, 1966.5, 1965.5,
             1962.5, 1955.0, 1950.0, 1944.0, 1942.0, 1944.5,
             1942.0, 1940.0, 1938.5, 1934.0, 1936.5, 1934.5,
             1933.0, 1932.0, 1929.5, 1928.0, 1934.0, 1934.5,
             1933.0, 1932.0, 1935.0, 1943.5, 1940.0, 1942.5,
             1940.0, 1938.0, 1936.0, 1934.5, 1937.0, 1936.0,
             1934.0, 1930.0, 1925.0, 1922.5, 1926.0, 1925.0,
             1926.0, 1925.0, 1922.0, 1918.0, 1915.0, 1915.5,
             1914.0, 1916.0, 1920.5, 1918.0, 1914.0, 1913.0,
             1913.5, 1914.5, 1915.0, 1912.0, 1913.0, 1914.0,
             1913.0, 1911.0, 1908.0, 1905.0, 1908.0, 1907.0,
             1907.5, 1905.0, 1909.0, 1910.5, 1902.0, 1904.0,
             1901.3]
xau_high = [1967.5, 1969.0, 1970.5, 1973.0, 1973.0, 1972.5,
            1974.0, 1982.0, 1979.0, 1977.0, 1955.0, 1948.5,
            1948.5, 1953.0, 1953.5, 1960.0, 1962.5, 1962.0,
            1961.0, 1959.5, 1962.0, 1964.5, 1968.0, 1967.5,
            1966.5, 1963.5, 1956.5, 1951.0, 1945.5, 1946.0,
            1945.5, 1943.0, 1941.5, 1939.5, 1938.0, 1937.5,
            1935.5, 1934.5, 1933.0, 1931.0, 1935.5, 1936.0,
            1935.5, 1934.0, 1936.5, 1946.0, 1944.5, 1943.5,
            1943.5, 1941.0, 1939.0, 1937.0, 1938.5, 1938.0,
            1937.0, 1935.0, 1931.0, 1926.0, 1927.5, 1927.0,
            1927.5, 1927.0, 1926.0, 1923.0, 1919.0, 1917.0,
            1917.0, 1917.5, 1922.0, 1921.5, 1919.0, 1915.0,
            1915.0, 1916.0, 1916.5, 1916.0, 1914.5, 1915.5,
            1915.0, 1914.0, 1912.0, 1909.0, 1909.5, 1909.0,
            1909.0, 1908.5, 1910.5, 1912.5, 1911.5, 1905.5,
            1904.5]
xau_low = [1963.5, 1964.5, 1966.0, 1967.5, 1969.0, 1968.5,
           1969.5, 1971.0, 1975.0, 1950.5, 1944.5, 1943.0,
           1943.5, 1945.5, 1948.5, 1948.5, 1957.0, 1958.0,
           1956.5, 1954.5, 1954.5, 1959.0, 1961.5, 1964.0,
           1961.0, 1953.5, 1948.0, 1942.5, 1940.0, 1940.5,
           1940.5, 1938.0, 1937.0, 1932.5, 1932.5, 1933.0,
           1931.5, 1930.0, 1928.0, 1926.0, 1927.0, 1932.5,
           1931.5, 1930.5, 1930.5, 1933.5, 1938.5, 1938.5,
           1938.5, 1936.5, 1934.5, 1933.0, 1933.0, 1934.5,
           1932.5, 1928.5, 1923.5, 1921.0, 1921.5, 1923.5,
           1923.5, 1923.5, 1920.5, 1916.5, 1913.5, 1913.5,
           1912.5, 1912.5, 1914.5, 1916.5, 1912.5, 1911.5,
           1911.5, 1912.0, 1913.0, 1910.5, 1910.5, 1912.0,
           1911.5, 1909.5, 1906.5, 1903.5, 1903.5, 1905.5,
           1905.5, 1903.5, 1903.5, 1907.5, 1900.5, 1900.5,
           1899.5]
xau_bb_up_x = [0, 3, 6, 9, 11, 15, 18, 22, 26, 29, 32, 36, 40, 44, 48, 52, 56, 60, 64, 68, 72, 76, 80, 84, 88, 90]
xau_bb_up = [1973.0, 1971.5, 1974.0, 1980.3, 1982.6, 1983.3, 1982.6, 1982.1, 1979.5, 1973.5, 1971.8, 1972.6,
             1973.0, 1970.0, 1965.0, 1955.0, 1950.0, 1948.0, 1945.0, 1940.0, 1933.0, 1928.0, 1925.0, 1921.0,
             1918.0, 1917.0]
xau_bb_mid_x = [0, 5, 10, 15, 20, 25, 30, 35, 40, 45, 50, 55, 60, 65, 70, 75, 80, 85, 90]
xau_bb_mid = [1960.0, 1962.0, 1963.0, 1960.0, 1958.0, 1958.5, 1955.0, 1948.0, 1941.0, 1937.5, 1936.5, 1935.0,
              1932.0, 1927.0, 1922.0, 1917.0, 1914.0, 1911.0, 1908.5]
xau_bb_low_x = [0, 5, 10, 13, 17, 22, 26, 30, 35, 40, 45, 50, 55, 60, 65, 70, 75, 80, 85, 90]
xau_bb_low = [1947.0, 1951.0, 1946.0, 1938.0, 1936.0, 1935.0, 1938.0, 1935.0, 1925.0, 1918.0, 1916.0, 1919.0,
              1920.0, 1916.0, 1909.0, 1905.0, 1904.5, 1903.0, 1900.0, 1899.0]
xau_hist = [1.0, 0.9, 0.8, 1.0, 1.2, 1.1, 1.4, 2.5, 1.8, -1.2,
            -2.5, -3.5, -3.8, -3.0, -2.2, -1.0, -0.2, 0.4, 0.8, 1.0,
            1.2, 1.5, 1.8, 1.6, 1.0, 0.2, -0.6, -1.5, -2.2, -2.4,
            -2.8, -3.0, -3.2, -3.5, -3.3, -3.4, -3.2, -3.0, -2.8, -2.6,
            -1.8, -1.5, -1.2, -1.0, -0.6, 0.6, 1.0, 1.2, 1.2, 1.0,
            0.8, 0.6, 0.4, 0.2, 0.0, -0.4, -0.8, -1.2, -1.0, -1.0,
            -0.8, -0.8, -1.0, -1.2, -1.4, -1.2, -1.0, -0.6, 0.0, 0.2,
            0.2, 0.2, 0.3, 0.3, 0.3, 0.2, 0.2, 0.2, 0.1, 0.0,
            -0.1, -0.2, -0.2, -0.2, -0.1, 0.0, 0.1, 0.2, 0.0, -0.1,
            -0.1]
xau_macd_x = [0, 4, 7, 9, 12, 16, 20, 23, 26, 30, 35, 40, 45, 50, 55, 60, 65, 70, 75, 80, 85, 90]
xau_macd = [2.0, 2.5, 4.5, 1.0, -2.0, -1.0, 0.5, 2.0, 0.5, -3.5, -7.0, -8.0, -6.0, -5.0, -6.0, -7.5,
            -8.5, -8.0, -7.5, -7.5, -7.0, -7.0]
xau_sig_x = [0, 5, 9, 13, 17, 21, 25, 30, 35, 40, 45, 50, 55, 60, 65, 70, 75, 80, 85, 90]
xau_sig = [1.0, 1.8, 2.5, 1.0, -0.5, -0.5, 0.5, -0.8, -3.5, -6.0, -6.8, -6.0, -5.8, -6.5, -7.5, -8.0,
           -7.8, -7.6, -7.3, -7.1]
xau_levels = [1916, 1910, 1896, 1890]
xau_last = 1901.3
xau_yticks = [1886.70, 1894.05, 1901.40, 1908.75, 1916.10, 1923.45, 1930.80, 1938.15, 1945.50, 1952.85,
              1960.20, 1967.55, 1974.90, 1982.25, 1989.60, 1996.95, 2004.30]

# ================= OIL =================
oil_open = [79.45, 79.30, 79.10, 79.00, 78.85, 78.70,
            78.90, 79.05, 79.30, 79.60, 80.20, 80.00,
            80.15, 80.05, 80.20, 80.40, 80.70, 80.55,
            80.60, 80.75, 80.90, 81.10, 81.25, 81.30,
            81.45, 81.30, 81.10, 80.90, 80.85, 81.20,
            81.65, 81.93, 81.75, 81.20, 80.50, 79.60,
            79.45, 79.30, 79.60, 80.20, 80.60, 81.00,
            81.20, 81.15, 81.30, 81.40, 81.36, 82.66,
            82.50, 82.54, 82.22, 81.36, 81.55, 81.93,
            82.03, 81.30, 80.90, 80.80, 81.30, 82.22,
            82.32, 82.41, 82.12, 83.36, 83.93, 83.55,
            84.03, 83.97, 84.60, 83.97, 83.74, 82.22,
            82.28, 82.54, 82.12, 82.03, 82.32, 83.36,
            82.50, 82.41, 82.10, 82.30, 82.03, 82.12,
            81.93, 81.90, 81.80, 80.90, 80.75, 80.55,
            80.40]
oil_close = [79.30, 79.10, 79.00, 78.85, 78.70, 78.90,
             79.05, 79.30, 79.60, 80.20, 80.00, 80.15,
             80.05, 80.20, 80.40, 80.70, 80.55, 80.60,
             80.75, 80.90, 81.10, 81.25, 81.30, 81.45,
             81.30, 81.10, 80.90, 80.85, 81.20, 81.65,
             81.93, 81.75, 81.20, 80.50, 79.60, 79.45,
             79.30, 79.60, 80.20, 80.60, 81.00, 81.20,
             81.15, 81.30, 81.55, 81.65, 82.66, 82.12,
             82.54, 82.22, 81.40, 81.55, 81.93, 82.03,
             81.30, 80.90, 80.80, 81.30, 82.22, 82.32,
             82.41, 82.12, 83.36, 83.93, 83.55, 84.03,
             83.97, 84.60, 83.97, 83.74, 82.22, 82.28,
             82.50, 82.12, 82.03, 82.32, 83.36, 82.50,
             82.41, 81.55, 81.40, 81.45, 82.22, 81.65,
             81.84, 81.93, 80.90, 80.75, 80.55, 80.40,
             80.34]
oil_high = [79.60, 79.40, 79.20, 79.10, 78.95, 79.00,
            79.15, 79.40, 79.75, 80.35, 80.30, 80.25,
            80.25, 80.30, 80.50, 80.85, 80.80, 80.70,
            80.85, 81.00, 81.20, 81.35, 81.40, 81.55,
            81.55, 81.40, 81.20, 81.00, 81.30, 81.75,
            82.05, 82.00, 81.80, 81.25, 80.55, 79.70,
            79.55, 79.70, 80.30, 80.70, 81.10, 81.30,
            81.30, 81.35, 81.60, 81.75, 82.98, 82.75,
            82.65, 82.62, 82.30, 81.62, 82.00, 82.22,
            82.10, 81.35, 81.00, 81.40, 82.30, 82.73,
            82.50, 82.45, 83.45, 84.60, 84.64, 84.10,
            84.10, 84.88, 84.65, 84.05, 83.80, 82.40,
            82.58, 82.60, 82.18, 82.38, 83.49, 83.40,
            82.55, 82.45, 82.15, 82.35, 82.30, 82.20,
            81.98, 82.00, 82.36, 80.98, 80.80, 80.60,
            80.49]
oil_low = [79.20, 79.05, 78.92, 78.78, 78.60, 78.65,
           78.82, 78.98, 79.22, 79.50, 79.92, 79.92,
           79.98, 79.98, 80.12, 80.35, 80.48, 80.50,
           80.55, 80.68, 80.85, 81.02, 81.18, 81.25,
           81.22, 81.02, 80.82, 80.75, 80.80, 81.12,
           81.58, 81.70, 81.15, 80.45, 79.50, 79.30,
           79.10, 79.25, 79.52, 80.12, 80.55, 80.90,
           81.08, 81.08, 81.25, 81.32, 81.30, 82.05,
           82.42, 82.15, 81.32, 81.30, 81.48, 81.88,
           81.25, 80.80, 80.65, 80.70, 81.22, 82.15,
           82.25, 82.05, 82.05, 83.28, 83.48, 83.48,
           83.90, 83.92, 83.90, 83.65, 82.15, 82.15,
           82.22, 82.05, 81.55, 81.98, 82.25, 82.40,
           82.35, 81.50, 81.32, 81.38, 81.98, 81.58,
           81.78, 81.85, 80.82, 80.68, 80.45, 80.30,
           80.28]
oil_bb_up_x = [0, 5, 10, 15, 20, 23, 30.5, 36.3, 46.3, 53, 59.7, 66.3, 68.8, 75.5, 77.2, 83, 88.8, 90.7]
oil_bb_up = [80.3, 80.1, 80.4, 80.9, 81.2, 81.35, 82.5, 82.8, 83.65, 83.75, 83.1, 84.6, 85.2, 85.2, 84.6,
             84.6, 83.75, 83.75]
oil_bb_mid_x = [0, 5, 10, 15, 20, 25, 30, 35, 40, 45, 50, 55, 60, 65.5, 70, 76.3, 83, 85.5, 90.7]
oil_bb_mid = [79.0, 79.0, 79.3, 79.7, 80.2, 80.7, 81.0, 81.0, 80.8, 80.9, 81.4, 81.6, 81.7, 82.3, 82.5,
              82.98, 82.9, 82.6, 82.2]
oil_bb_low_x = [0, 5, 10, 15, 20, 25, 30, 35, 40, 45, 50, 55, 60, 66, 70, 76, 80, 85, 88, 90.7]
oil_bb_low = [77.8, 77.9, 78.2, 78.5, 79.1, 80.1, 80.3, 79.2, 78.6, 78.5, 79.2, 79.5, 80.2, 80.0, 79.9,
              80.7, 81.1, 81.2, 80.5, 80.2]
oil_hist = [-0.05, -0.04, -0.04, -0.03, -0.03, -0.03, -0.01, 0.02, 0.05, 0.12,
            0.15, 0.16, 0.14, 0.14, 0.15, 0.16, 0.14, 0.12, 0.12, 0.11,
            0.10, 0.09, 0.08, 0.06, 0.03, 0.0, -0.02, -0.04, -0.02, 0.02,
            0.05, 0.06, 0.04, -0.02, -0.10, -0.18, -0.24, -0.26, -0.24, -0.20,
            -0.14, -0.10, -0.07, -0.04, -0.02, 0.02, 0.14, 0.18, 0.20, 0.18,
            0.12, 0.10, 0.08, 0.06, 0.0, -0.06, -0.10, -0.10, -0.04, 0.04,
            0.06, 0.04, 0.10, 0.16, 0.18, 0.20, 0.18, 0.22, 0.20, 0.15,
            0.06, 0.02, 0.0, -0.04, -0.08, -0.06, 0.04, 0.02, 0.0, -0.06,
            -0.10, -0.12, -0.10, -0.12, -0.12, -0.12, -0.16, -0.18, -0.18, -0.18,
            -0.17]
oil_macd_x = [0, 5, 10, 15, 20, 25, 30, 35, 38, 42, 46, 50, 55, 59, 63, 67, 70, 74, 77, 81, 85, 88, 90]
oil_macd = [-0.20, -0.25, 0.05, 0.30, 0.45, 0.40, 0.50, 0.05, -0.20, -0.05, 0.30, 0.35, 0.15, 0.25,
            0.55, 0.75, 0.60, 0.45, 0.50, 0.25, 0.15, -0.05, -0.15]
oil_sig_x = [0, 5, 10, 15, 20, 25, 30, 35, 40, 44, 48, 52, 56, 60, 64, 68, 72, 76, 80, 84, 88, 90]
oil_sig = [-0.15, -0.22, -0.10, 0.15, 0.35, 0.42, 0.45, 0.30, 0.05, 0.00, 0.15, 0.28, 0.25, 0.25,
           0.40, 0.60, 0.58, 0.50, 0.40, 0.25, 0.10, 0.02]
oil_levels = [82.35, 81.25, 79.55, 78.45]
oil_last = 80.34
oil_yticks = [73.97, 74.78, 75.59, 76.40, 77.21, 78.02, 78.83, 79.64, 80.45, 81.26, 82.07, 82.88,
              83.69, 84.50, 85.31, 86.12, 86.93]


def text_fig(h):
    p = figure(width=W, height=h, x_range=Range1d(0, W), y_range=Range1d(h, 0),
               output_backend="svg", toolbar_location=None, min_border=0,
               x_axis_type=None, y_axis_type=None,
               outline_line_color=None, background_fill_color="white", border_fill_color="white")
    p.xgrid.visible = False
    p.ygrid.visible = False
    return p


def put(p, x, y, s, size, color="#333333", style="normal", align="left"):
    p.text(x=[x], y=[y], text=[s], text_font=value(FONT), text_font_size=size,
           text_color=color, text_font_style=style, text_align=align, text_baseline="middle")


def section(h, head, lines, ys):
    p = text_fig(h)
    p.segment(x0=[0], y0=[10], x1=[W], y1=[10], line_color="#e8e8e8", line_width=1)
    put(p, 0, ys[0], head, BODY, ORANGE, "bold")
    for y, s in zip(ys[1:], lines):
        put(p, 0, y, s, BODY, "#333333")
    return p


def style_axis(ax):
    ax.axis_line_color = None
    ax.major_tick_line_color = "#555555"
    ax.major_tick_out = 2
    ax.major_tick_in = 0
    ax.minor_tick_line_color = None
    ax.major_label_text_font_size = "5px"
    ax.major_label_text_color = "#444444"
    ax.major_label_standoff = 2


def chart(header, o, h, l, c, yr, yticks, fmt, levels, last, bands, mheader, hist, mx, mv, sx, sv, mr, mticks, mfmt):
    xr = Range1d(-0.6, 115.8)
    p = figure(width=W, height=237, x_range=xr, y_range=Range1d(*yr), output_backend="svg",
               toolbar_location=None, x_axis_type=None, y_axis_location="right",
               min_border_left=1, min_border_right=20, min_border_top=1, min_border_bottom=1,
               background_fill_color=PALE, border_fill_color=PALE, outline_line_color="#8c8c8c")
    p.grid.visible = False
    ax = p.yaxis[0]
    ax.ticker = FixedTicker(ticks=yticks)
    ax.formatter = PrintfTickFormatter(format=fmt)
    style_axis(ax)
    for lv in levels:
        p.add_layout(Span(location=lv, dimension="width", line_color=LEVELC, line_width=1.6, line_alpha=0.9))
        p.add_layout(Label(x=115.8, y=lv, x_offset=1, text=fmt % lv, text_font_size="5px",
                           text_color="white", text_baseline="middle", background_fill_color="#ff2020"))
    p.add_layout(Span(location=last, dimension="width", line_color="#b8b8b8", line_width=1.2))
    p.add_layout(Label(x=115.8, y=last, x_offset=1, text=fmt % last, text_font_size="5px",
                       text_color="white", text_baseline="middle", background_fill_color="#111111"))
    for bx, bv in bands:
        k = min(len(bx), len(bv))
        p.line(bx[:k], bv[:k], line_color=BANDC, line_width=1.3)
    n = min(len(o), len(h), len(l), len(c))
    xs = list(range(n))
    cols = [UPC if cc >= oo else DNC for oo, cc in zip(o[:n], c[:n])]
    src = ColumnDataSource(dict(x=xs, o=o[:n], h=h[:n], l=l[:n], c=c[:n], col=cols))
    p.segment(x0="x", y0="h", x1="x", y1="l", line_color="col", source=src, line_width=1)
    p.vbar(x="x", width=0.62, top="c", bottom="o", fill_color="col", line_color="col", source=src)
    p.add_layout(Label(x=-0.6, y=yr[1], x_offset=3, y_offset=-2, text=header, text_baseline="top",
                       text_font_size="4.5px", text_color="#333333"))

    m = figure(width=W, height=103, x_range=xr, y_range=Range1d(*mr), output_backend="svg",
               toolbar_location=None, y_axis_location="right",
               min_border_left=1, min_border_right=20, min_border_top=1, min_border_bottom=12,
               background_fill_color=PALE, border_fill_color=PALE, outline_line_color="#8c8c8c")
    m.grid.visible = False
    xa = m.xaxis[0]
    xa.ticker = FixedTicker(ticks=date_ticks)
    xa.major_label_overrides = {t: s for t, s in zip(date_ticks, date_labels)}
    style_axis(xa)
    xa.major_label_text_font_size = "4.5px"
    ya = m.yaxis[0]
    ya.ticker = FixedTicker(ticks=mticks)
    ya.formatter = PrintfTickFormatter(format=mfmt)
    ya.major_label_overrides = {0: "0.00"}
    style_axis(ya)
    hx = list(range(len(hist)))
    hc = [UPC if v >= 0 else DNC for v in hist]
    m.segment(x0=hx, y0=[0] * len(hx), x1=hx, y1=hist, line_color=hc, line_width=1)
    k = min(len(mx), len(mv))
    m.line(mx[:k], mv[:k], line_color="#8f8fff", line_width=1.2)
    k = min(len(sx), len(sv))
    m.line(sx[:k], sv[:k], line_color="#ff2a2a", line_width=1.6)
    m.add_layout(Label(x=-0.6, y=mr[1], x_offset=3, y_offset=-2, text=mheader, text_baseline="top",
                       text_font_size="4.5px", text_color="#333333"))
    return [p, m]


# header block
hdr = text_fig(204)
put(hdr, 408, 39, title, "20px", "#333333", "bold", "center")
put(hdr, 408, 73, subtitle, "13.5px", "#999999", "normal", "center")
put(hdr, 0, 115, eur_head, BODY, ORANGE, "bold")
for y, s in zip([140, 166, 192], eur_lines):
    put(hdr, 0, y, s, BODY, "#333333")

eur = chart("EURUSD,H4 1.09021 1.09103 1.08981 1.09071", eur_open, eur_high, eur_low, eur_close,
            (1.06841, 1.13437), eur_yticks, "%.4f", eur_levels, eur_last,
            [(eur_bb_up_x, eur_bb_up), (eur_bb_mid_x, eur_bb_mid), (eur_bb_low_x, eur_bb_low)],
            "MACD(12,26,9) -0.00381 -0.00368 0.00000 -0.00013", eur_hist, eur_macd_x, eur_macd,
            eur_sig_x, eur_sig, (-0.00736, 0.00433), [-0.00708, 0, 0.00394], "%.5f")
gbp = chart("GBPUSD,H4 1.27080 1.27150 1.27050 1.27120", gbp_open, gbp_high, gbp_low, gbp_close,
            (1.2585, 1.2962), gbp_yticks, "%.4f", gbp_levels, gbp_last,
            [(gbp_bb_x, gbp_bb_up), (gbp_bb_x, gbp_bb_mid), (gbp_bb_x, gbp_bb_low)],
            "MACD(12,26,9) -0.00075 -0.00085 0.00000 0.00000", gbp_hist, gbp_macd_x, gbp_macd,
            gbp_sig_x, gbp_sig, (-0.0032, 0.0022), [-0.00298, 0, 0.00197], "%.5f")
jpy = chart("USDJPY,H4 145.500 145.580 145.400 145.480", jpy_open, jpy_high, jpy_low, jpy_close,
            (135.44, 147.19), jpy_yticks, "%.3f", jpy_levels, jpy_last,
            [(jpy_bb_x, jpy_bb_up), (jpy_bb_x, jpy_bb_mid), (jpy_bb_x, jpy_bb_low)],
            "MACD(12,26,9) 0.500 0.560 0.000 -0.040", jpy_hist, jpy_macd_x, jpy_macd,
            jpy_sig_x, jpy_sig, (-0.75, 0.85), [-0.70, 0, 0.78], "%.3f")
xau = chart("XAUUSD,H4 1904.00 1904.50 1899.50 1901.30", xau_open, xau_high, xau_low, xau_close,
            (1886.0, 2009.0), xau_yticks, "%.2f", xau_levels, xau_last,
            [(xau_bb_up_x, xau_bb_up), (xau_bb_mid_x, xau_bb_mid), (xau_bb_low_x, xau_bb_low)],
            "MACD(12,26,9) -7.00 -7.10 0.00 -0.10", xau_hist, xau_macd_x, xau_macd,
            xau_sig_x, xau_sig, (-9.5, 7.0), [-9.04, 0, 6.25], "%.3f")
oil = chart("USOUSD,H4 80.40 80.49 80.28 80.34", oil_open, oil_high, oil_low, oil_close,
            (73.73, 87.24), oil_yticks, "%.2f", oil_levels, oil_last,
            [(oil_bb_up_x, oil_bb_up), (oil_bb_mid_x, oil_bb_mid), (oil_bb_low_x, oil_bb_low)],
            "MACD(12,26,9) -0.15 0.02 0.00 -0.17", oil_hist, oil_macd_x, oil_macd,
            oil_sig_x, oil_sig, (-0.6, 0.9), [-0.55, 0, 0.82], "%.3f")

gbp_sec = section(122, gbp_head, gbp_lines, [32, 58, 83, 109])
jpy_sec = section(121, jpy_head, jpy_lines, [31, 58, 83, 108])
xau_sec = section(121, xau_head, xau_lines, [32, 58, 83, 108])
oil_sec = section(121, oil_head, oil_lines, [32, 57, 81, 106])

disc = text_fig(547)
disc.segment(x0=[0], y0=[10], x1=[W], y1=[10], line_color="#e8e8e8", line_width=1)
for i, (bold, rest) in enumerate(disc_lines):
    y = 32 + 25 * i
    off = 0
    if bold:
        put(disc, 0, y, bold, SMALL, "#222222", "bold")
        off = 11.5 * len(bold)
    put(disc, off, y, rest, SMALL, "#333333")

blocks = [hdr] + eur + [gbp_sec] + gbp + [jpy_sec] + jpy + [xau_sec] + xau + [oil_sec] + oil + [disc]
page = row(Spacer(width=39, height=10), column(*blocks, spacing=0), spacing=0)

open("out.html", "w").write(file_html(page, INLINE))
